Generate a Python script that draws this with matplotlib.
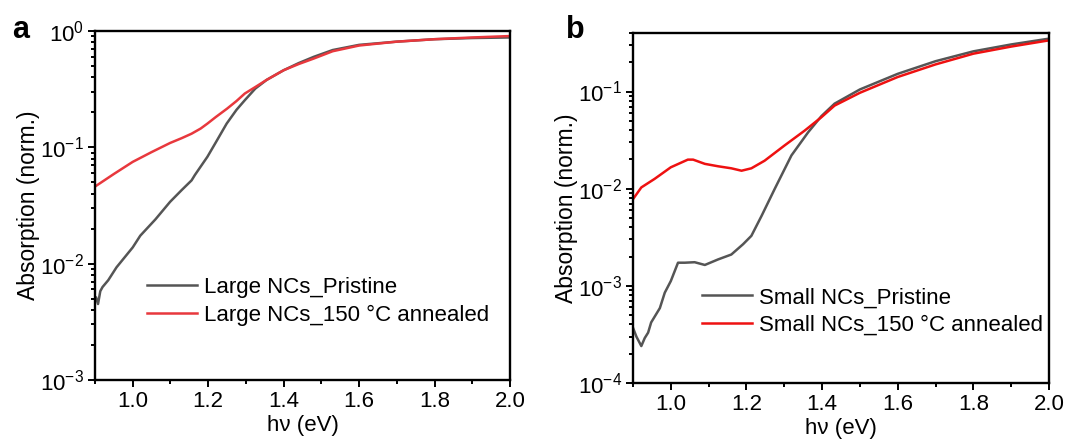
import numpy as np
import matplotlib
matplotlib.use("Agg")
import matplotlib.pyplot as plt  # noqa
from matplotlib.ticker import LogLocator, MultipleLocator, LogFormatterSciNotation, NullFormatter

plt.rcParams['font.family'] = ['Liberation Sans', 'DejaVu Sans']
plt.rcParams['mathtext.fontset'] = 'custom'
plt.rcParams['mathtext.rm'] = 'Liberation Sans'
plt.rcParams['mathtext.it'] = 'Liberation Sans:italic'

# panel a: large NCs
ea_pristine = [0.903, 0.908, 0.914, 0.92, 0.935, 0.957, 1.0, 1.02, 1.06, 1.099, 1.13, 1.156,
               1.165, 1.198, 1.22, 1.249, 1.275, 1.297, 1.325, 1.355, 1.40, 1.44, 1.48,
               1.53, 1.60, 1.70, 1.80, 1.90, 2.0]
a_pristine = [0.0051, 0.0045, 0.0058, 0.0063, 0.0072, 0.0093, 0.0138, 0.0174, 0.024, 0.034,
              0.043, 0.052, 0.058, 0.083, 0.11, 0.16, 0.21, 0.254, 0.32, 0.38, 0.46, 0.53,
              0.60, 0.686, 0.76, 0.81, 0.85, 0.87, 0.88]
ea_annealed = [0.9, 0.95, 1.0, 1.05, 1.099, 1.13, 1.156, 1.18, 1.198, 1.22, 1.25, 1.275,
               1.297, 1.325, 1.355, 1.40, 1.44, 1.48, 1.53, 1.60, 1.70, 1.80, 1.90, 2.0]
a_annealed = [0.046, 0.059, 0.075, 0.091, 0.109, 0.12, 0.131, 0.145, 0.16, 0.182, 0.215,
              0.25, 0.29, 0.33, 0.38, 0.46, 0.52, 0.58, 0.67, 0.75, 0.81, 0.85, 0.88, 0.905]

# panel b: small NCs
eb_pristine = [0.9, 0.909, 0.922, 0.931, 0.94, 0.948, 0.971, 0.984, 1.0, 1.019, 1.037,
               1.063, 1.09, 1.125, 1.16, 1.191, 1.213, 1.24, 1.275, 1.319, 1.363, 1.398,
               1.433, 1.50, 1.60, 1.70, 1.80, 1.90, 2.0]
b_pristine = [3.7e-4, 3.0e-4, 2.4e-4, 2.9e-4, 3.3e-4, 4.2e-4, 5.9e-4, 8.5e-4, 1.12e-3,
              1.73e-3, 1.73e-3, 1.75e-3, 1.64e-3, 1.87e-3, 2.1e-3, 2.68e-3, 3.27e-3,
              5.25e-3, 0.01, 0.022, 0.038, 0.0557, 0.075, 0.105, 0.152, 0.205, 0.259,
              0.305, 0.35]
eb_annealed = [0.9, 0.922, 0.957, 1.0, 1.045, 1.059, 1.09, 1.125, 1.16, 1.187, 1.213,
               1.248, 1.30, 1.354, 1.398, 1.433, 1.50, 1.60, 1.70, 1.80, 1.90, 2.0]
b_annealed = [0.0078, 0.0103, 0.0126, 0.0166, 0.0199, 0.0199, 0.018, 0.017, 0.0162,
              0.0153, 0.0162, 0.0194, 0.0277, 0.0396, 0.0543, 0.0716, 0.097, 0.141,
              0.19, 0.245, 0.29, 0.336]

gray = '#555555'
fs = 16
fig = plt.figure(figsize=(10.91, 4.41), dpi=100)
ax_a = fig.add_axes([95 / 1091, 1 - 380 / 441, 415 / 1091, 349 / 441])
ax_b = fig.add_axes([633 / 1091, 1 - 383 / 441, 416 / 1091, 350 / 441])

panels = [
    (ax_a, ea_pristine, a_pristine, ea_annealed, a_annealed, '#e8383d',
     'Large NCs_Pristine', 'Large NCs_150 \u00b0C annealed', (1e-3, 1.0), (0.125, 0.225)),
    (ax_b, eb_pristine, b_pristine, eb_annealed, b_annealed, '#ee1111',
     'Small NCs_Pristine', 'Small NCs_150 \u00b0C annealed', (1e-4, 0.4), (0.166, 0.204)),
]
for ax, x1, y1, x2, y2, red, lab1, lab2, ylim, anchor in panels:
    ax.plot(x1, y1, color=gray, lw=1.8, label=lab1)
    ax.plot(x2, y2, color=red, lw=1.8, label=lab2)
    ax.set_yscale('log')
    ax.set_xlim(0.9, 2.0)
    ax.set_ylim(*ylim)
    ax.xaxis.set_major_locator(MultipleLocator(0.2))
    ax.xaxis.set_minor_locator(MultipleLocator(0.1))
    ax.xaxis.set_major_formatter(plt.FormatStrFormatter('%.1f'))
    ax.yaxis.set_major_locator(LogLocator(base=10, numticks=10))
    ax.yaxis.set_minor_locator(LogLocator(base=10, subs=np.arange(2, 10), numticks=20))
    ax.yaxis.set_major_formatter(LogFormatterSciNotation())
    ax.yaxis.set_minor_formatter(NullFormatter())
    ax.tick_params(which='both', direction='out', width=1.4, labelsize=fs, top=False, right=False)
    ax.tick_params(which='major', length=5, pad=3)
    ax.tick_params(which='minor', length=3)
    for s in ax.spines.values():
        s.set_linewidth(1.7)
    ax.set_xlabel('h\u03bd (eV)', fontsize=fs, labelpad=2)
    ax.set_ylabel('Absorption (norm.)', fontsize=16.5, labelpad=0)
    ax.legend(loc='center left', bbox_to_anchor=anchor, frameon=False, fontsize=fs,
              handlelength=2.25, handletextpad=0.3, labelspacing=0.3, borderaxespad=0,
              borderpad=0)

fig.text(12 / 1091, 1 - 38 / 441, 'a', fontsize=22, fontweight='bold')
fig.text(566 / 1091, 1 - 38 / 441, 'b', fontsize=22, fontweight='bold')

fig.savefig('out.png', dpi=100)
